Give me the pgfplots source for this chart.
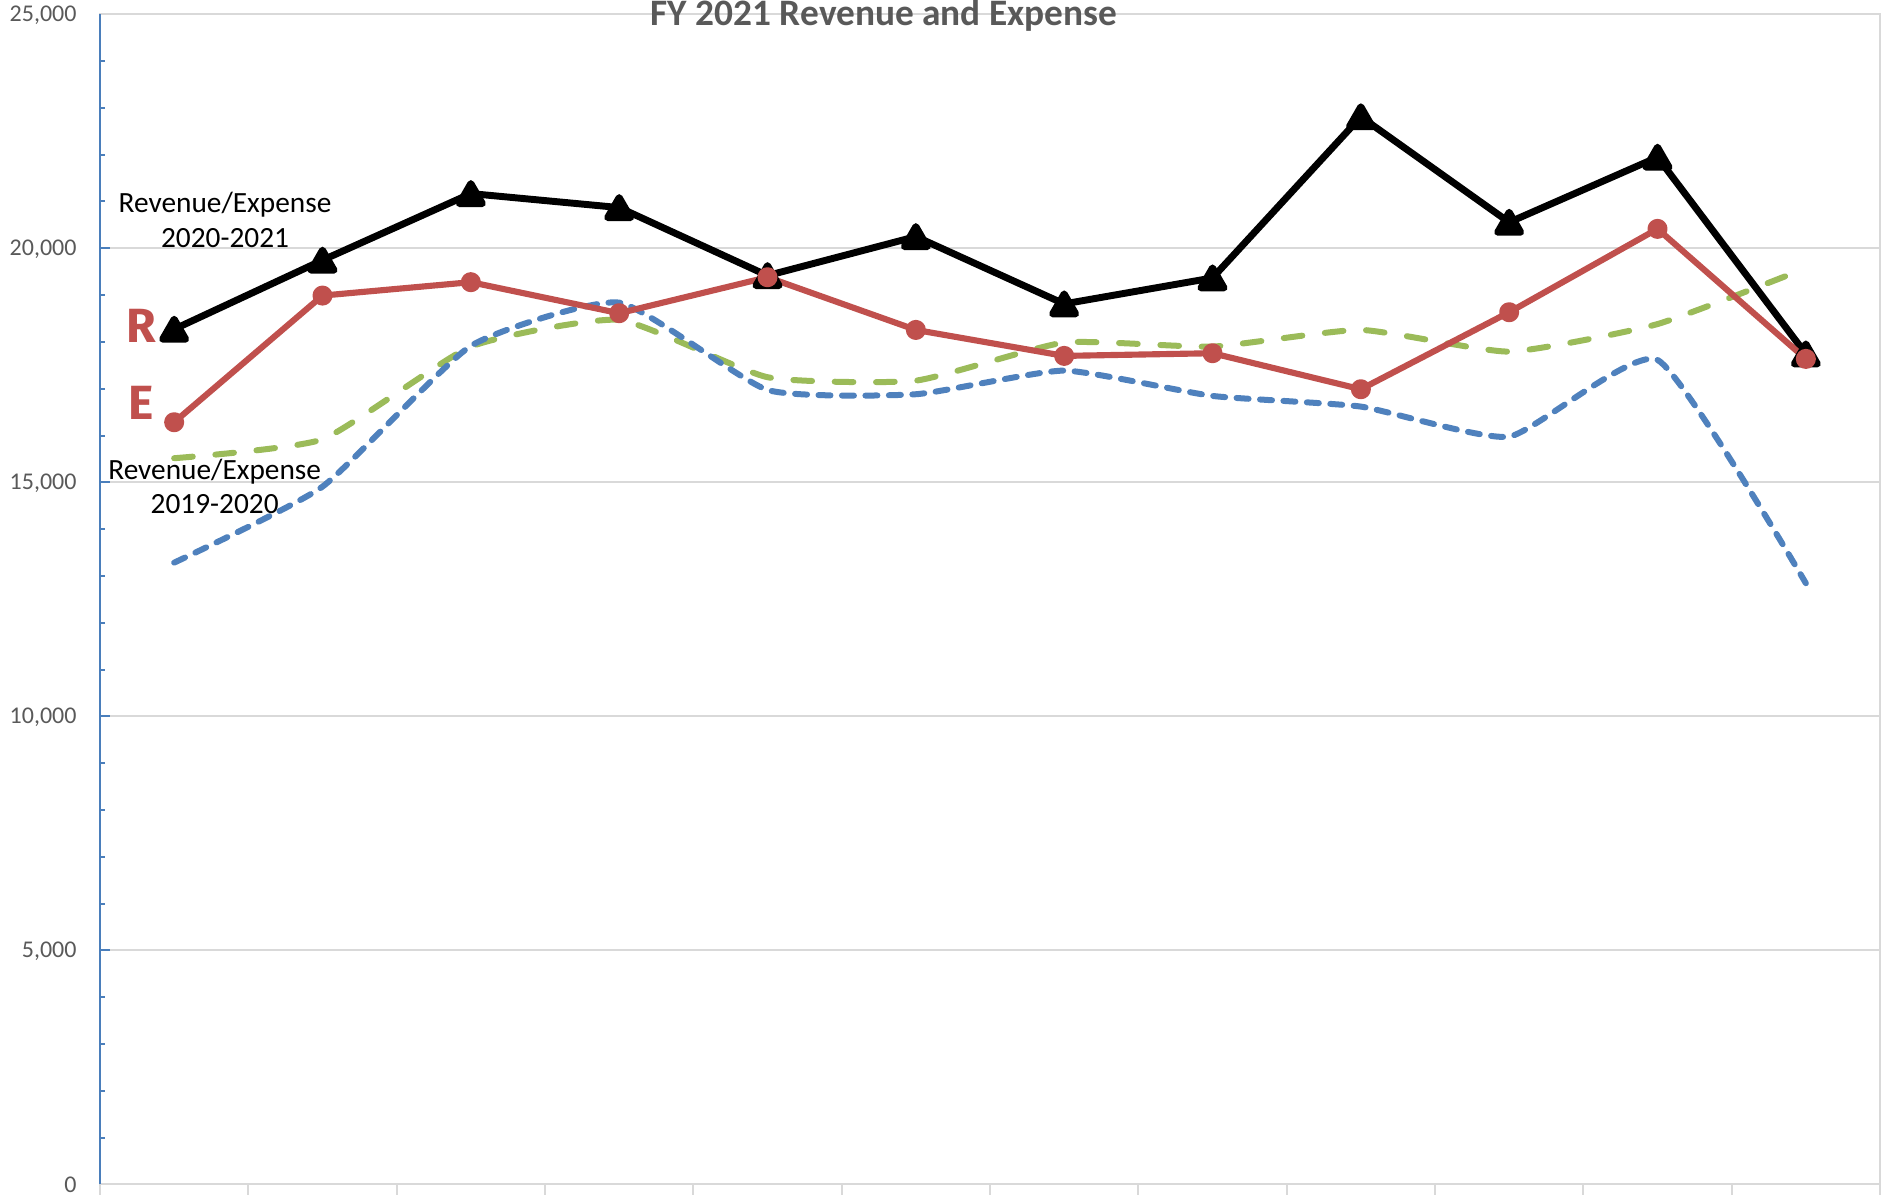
\documentclass[border=0pt]{standalone}
\usepackage{pgfplots}
\pgfplotsset{compat=1.18}
\usepackage{pgfplotstable}
\usepackage{fontspec}
\setmainfont{Carlito}
\newfontfamily\letterfont{Fira Sans}
\definecolor{gridgray}{HTML}{D9D9D9}
\definecolor{axisblue}{HTML}{4A7EBB}
\definecolor{labelgray}{HTML}{595959}
\definecolor{sred}{HTML}{C0504D}
\definecolor{sgreen}{HTML}{9BBB59}
\definecolor{sblue}{HTML}{4F81BD}

\pgfplotstableread{
x blk red grn blu
0.5 18271 16284 15515 13284
1.5 19746 18990 15920 14908
2.5 21169 19276 17900 17915
3.5 20870 18613 18470 18839
4.5 19417 19382 17246 16974
5.5 20250 18256 17173 16882
6.5 18812 17701 17986 17387
7.5 19367 17758 17900 16846
8.5 22810 16989 18256 16618
9.5 20556 18634 17793 15977
10.5 21946 20415 18381 17615
11.5 17743 17637 19575 12844
}\datatable

\begin{document}
\begin{tikzpicture}
\useasboundingbox (0,0) rectangle (709.875pt,447.75pt);
\begin{axis}[
  name=ax,
  at={(37.5pt,3.6pt)}, anchor=south west,
  scale only axis, width=667.5pt, height=438.8pt,
  xmin=0, xmax=12, ymin=0, ymax=25000,
  xtick={0,1,...,12}, xticklabels={},
  ytick={0,5000,10000,15000,20000,25000},
  scaled y ticks=false,
  minor y tick num=4,
  tick align=inside,
  xtick pos=left, ytick pos=left,
  major tick length=3.8pt, minor tick length=2pt,
  x tick style={draw=gridgray, line width=0.75pt, yshift=-3.8pt},
  y tick style={draw=axisblue, line width=0.75pt},
  ymajorgrids,
  major grid style={draw=gridgray, line width=0.75pt},
  axis line style={draw=gridgray, line width=0.75pt},
  yticklabel style={font=\fontsize{9}{10.8}\selectfont, text=labelgray,
    inner sep=0pt, text height=5.7pt, text depth=0pt, anchor=east, xshift=-8.6pt},
  /pgf/number format/1000 sep={,},
  /pgf/number format/assume math mode=true,
]
\addplot[sgreen, line width=2.25pt, smooth, tension=0.3, line cap=round,
  dash pattern=on 7pt off 8.5pt, no markers] table[x=x,y=grn]{\datatable};
\addplot[sblue, line width=2.25pt, smooth, tension=0.3, line cap=round,
  dash pattern=on 4.5pt off 4.3pt, no markers] table[x=x,y=blu]{\datatable};
\addplot[black, line width=2.6pt, line join=round, mark=triangle*, mark size=5pt,
  mark options={solid, fill=black, yshift=-1.25pt}] table[x=x,y=blk]{\datatable};
\addplot[sred, line width=2.3pt, line join=round, mark=*, mark size=2.6pt,
  mark options={solid, fill=sred}] table[x=x,y=red]{\datatable};
\end{axis}
\draw[axisblue, line width=0.9pt] (ax.south west) -- (ax.north west);
\node[anchor=base, inner sep=0pt, text=labelgray, font=\bfseries\fontsize{14}{16.8}\selectfont]
  at (331.5pt,438pt) {FY 2021 Revenue and Expense};
\node[anchor=base, inner sep=0pt, font=\fontsize{11}{13.2}\selectfont] at (84.4pt,368.1pt) {Revenue/Expense};
\node[anchor=base, inner sep=0pt, font=\fontsize{11}{13.2}\selectfont] at (84.4pt,355pt) {2020-2021};
\node[anchor=base, inner sep=0pt, font=\fontsize{11}{13.2}\selectfont] at (80.5pt,268.1pt) {Revenue/Expense};
\node[anchor=base, inner sep=0pt, font=\fontsize{11}{13.2}\selectfont] at (80.5pt,255pt) {2019-2020};
\node[anchor=base, inner sep=0pt, text=sred, font=\letterfont\bfseries\fontsize{18}{20}\selectfont] at (53.1pt,319.2pt) {R};
\node[anchor=base, inner sep=0pt, text=sred, font=\letterfont\bfseries\fontsize{18}{20}\selectfont] at (53pt,290.5pt) {E};
\end{tikzpicture}
\end{document}
